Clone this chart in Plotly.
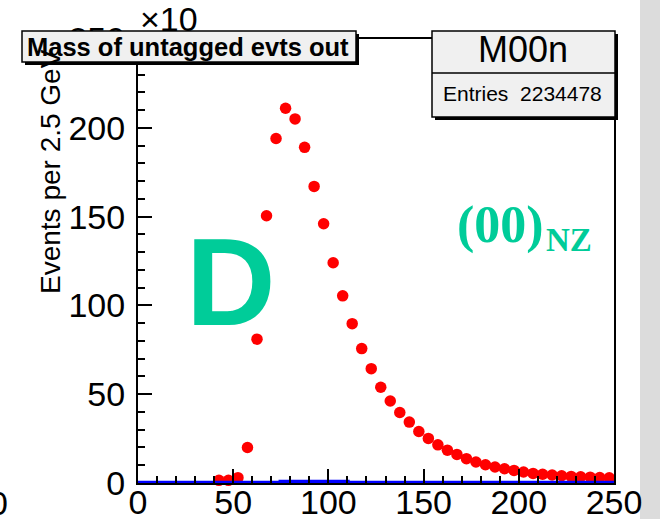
import plotly.graph_objects as go

# ---------------- data ----------------
bin_centers = [42.5, 47.5, 52.5, 57.5, 62.5, 67.5, 72.5, 77.5, 82.5, 87.5,
               92.5, 97.5, 102.5, 107.5, 112.5, 117.5, 122.5, 127.5, 132.5, 137.5,
               142.5, 147.5, 152.5, 157.5, 162.5, 167.5, 172.5, 177.5, 182.5, 187.5,
               192.5, 197.5, 202.5, 207.5, 212.5, 217.5, 222.5, 227.5, 232.5, 237.5,
               242.5, 247.5]
events = [1.5, 1.5, 3.0, 20.0, 81.0, 150.5, 194.0, 211.0, 205.0, 189.0,
          167.0, 146.0, 124.0, 105.4, 89.7, 75.7, 64.4, 53.9, 46.2, 39.7,
          34.3, 29.0, 25.1, 21.5, 18.5, 16.1, 13.7, 11.8, 10.3, 9.0,
          8.0, 7.1, 6.2, 5.4, 4.9, 4.5, 4.1, 3.7, 3.5, 3.3,
          3.1, 2.9]

# second (blue) histogram, drawn as steps at bin edges
blue_edges = [0, 75, 110, 250]
blue_values = [0.0, 0.5, 0.0, 0.0]

x_ticks = [0, 50, 100, 150, 200, 250]
y_ticks = [0, 50, 100, 150, 200, 250]

title_text = "Mass of untagged evts out"
stats_name = "M00n"
stats_entries = "Entries\u00a0 2234478"
y_title = "Events per 2.5 GeV"
exponent_label = "\u00d710"
big_letter = "D"
tag_main = "(00)"
tag_sub = "NZ"

# ---------------- geometry helpers (pixels -> paper) ----------------
W, H = 660, 519
L, R, T, B = 138, 614, 39, 483


def px(x):
    return (x - L) / (R - L)


def py(y):
    return (B - y) / (B - T)


GREEN = "#00cc99"
SANS = "Liberation Sans, Arial, sans-serif"
SERIF = "Liberation Serif, Times New Roman, serif"

fig = go.Figure()

fig.add_trace(go.Scatter(
    x=bin_centers, y=events, mode="markers",
    marker=dict(color="#ff0000", size=11.5, line=dict(width=0)),
    cliponaxis=False, showlegend=False, hoverinfo="skip"))

fig.add_trace(go.Scatter(
    x=blue_edges, y=blue_values, mode="lines", line_shape="hv",
    line=dict(color="#0000ff", width=4.5),
    cliponaxis=False, showlegend=False, hoverinfo="skip"))

axis_common = dict(
    automargin=False,
    showgrid=False, zeroline=False, showline=True, linecolor="black", linewidth=2,
    mirror=True, ticks="inside", ticklen=14, tickwidth=1.5, tickcolor="black",
    tickfont=dict(family=SANS, size=34, color="black"),
)

fig.update_xaxes(range=[0, 250], tickvals=x_ticks, ticktext=[str(v) for v in x_ticks],
                 minor=dict(dtick=10, ticklen=7, tickwidth=1.5, ticks="inside", tickcolor="black"),
                 ticklabelstandoff=-12, **axis_common)
fig.update_yaxes(range=[0, 250], tickvals=y_ticks, ticktext=[str(v) for v in y_ticks],
                 minor=dict(dtick=10, ticklen=7, tickwidth=1.5, ticks="inside", tickcolor="black"),
                 ticklabelstandoff=4, **axis_common)

shapes = []
# gray strip at right edge
shapes.append(dict(type="rect", xref="paper", yref="paper", x0=px(640), x1=px(662), y0=py(-2), y1=py(521),
                   fillcolor="#dcdcdc", line=dict(width=0), layer="below"))
# title box shadow + box
shapes.append(dict(type="rect", xref="paper", yref="paper", x0=px(25), x1=px(359), y0=py(65), y1=py(34),
                   fillcolor="black", line=dict(width=0), layer="above"))
shapes.append(dict(type="rect", xref="paper", yref="paper", x0=px(22), x1=px(356), y0=py(62), y1=py(31),
                   fillcolor="#f0f0f0", line=dict(color="black", width=1.5), layer="above"))
# stats box shadow + box
shapes.append(dict(type="rect", xref="paper", yref="paper", x0=px(435), x1=px(618), y0=py(120), y1=py(34),
                   fillcolor="black", line=dict(width=0), layer="above"))
shapes.append(dict(type="rect", xref="paper", yref="paper", x0=px(432), x1=px(615), y0=py(117), y1=py(31),
                   fillcolor="#f0f0f0", line=dict(color="black", width=1.5), layer="above"))
shapes.append(dict(type="line", xref="paper", yref="paper", x0=px(432), x1=px(615), y0=py(73), y1=py(73),
                   line=dict(color="black", width=1.5), layer="above"))

annotations = [
    dict(text=title_text, x=px(188), y=py(47), xref="paper", yref="paper", showarrow=False,
         xanchor="center", yanchor="middle",
         font=dict(family=SANS, size=25.5, color="black", weight="bold")),
    dict(text=stats_name, x=px(523), y=py(50), xref="paper", yref="paper", showarrow=False,
         xanchor="center", yanchor="middle", font=dict(family=SANS, size=36, color="black")),
    dict(text=stats_entries, x=px(522), y=py(94), xref="paper", yref="paper", showarrow=False,
         xanchor="center", yanchor="middle", font=dict(family=SANS, size=21, color="black")),
    dict(text=y_title, x=px(50), y=py(172), xref="paper", yref="paper", showarrow=False,
         textangle=-90, xanchor="center", yanchor="middle", font=dict(family=SANS, size=28, color="black")),
    dict(text=exponent_label, x=px(138), y=py(19), xref="paper", yref="paper", showarrow=False,
         xanchor="left", yanchor="middle", font=dict(family=SANS, size=34, color="black")),
    dict(text=big_letter, x=px(231), y=py(282), xref="paper", yref="paper", showarrow=False,
         xanchor="center", yanchor="middle", font=dict(family=SANS, size=124, color=GREEN, weight="bold")),
    dict(text=tag_main, x=px(500), y=py(225), xref="paper", yref="paper", showarrow=False,
         xanchor="center", yanchor="middle", font=dict(family=SERIF, size=52, color=GREEN, weight="bold")),
    dict(text=tag_sub, x=px(569), y=py(240), xref="paper", yref="paper", showarrow=False,
         xanchor="center", yanchor="middle", font=dict(family=SERIF, size=33, color=GREEN, weight="bold")),
    dict(text="0", x=px(-2), y=py(503), xref="paper", yref="paper", showarrow=False,
         xanchor="center", yanchor="middle", font=dict(family=SANS, size=34, color="black")),
]

fig.update_layout(
    template="none",
    width=W, height=H, autosize=False,
    margin=dict(l=L, r=W - R, t=T, b=H - B, pad=0),
    paper_bgcolor="white", plot_bgcolor="white",
    shapes=shapes, annotations=annotations, showlegend=False,
)

fig.write_html("out.html")
